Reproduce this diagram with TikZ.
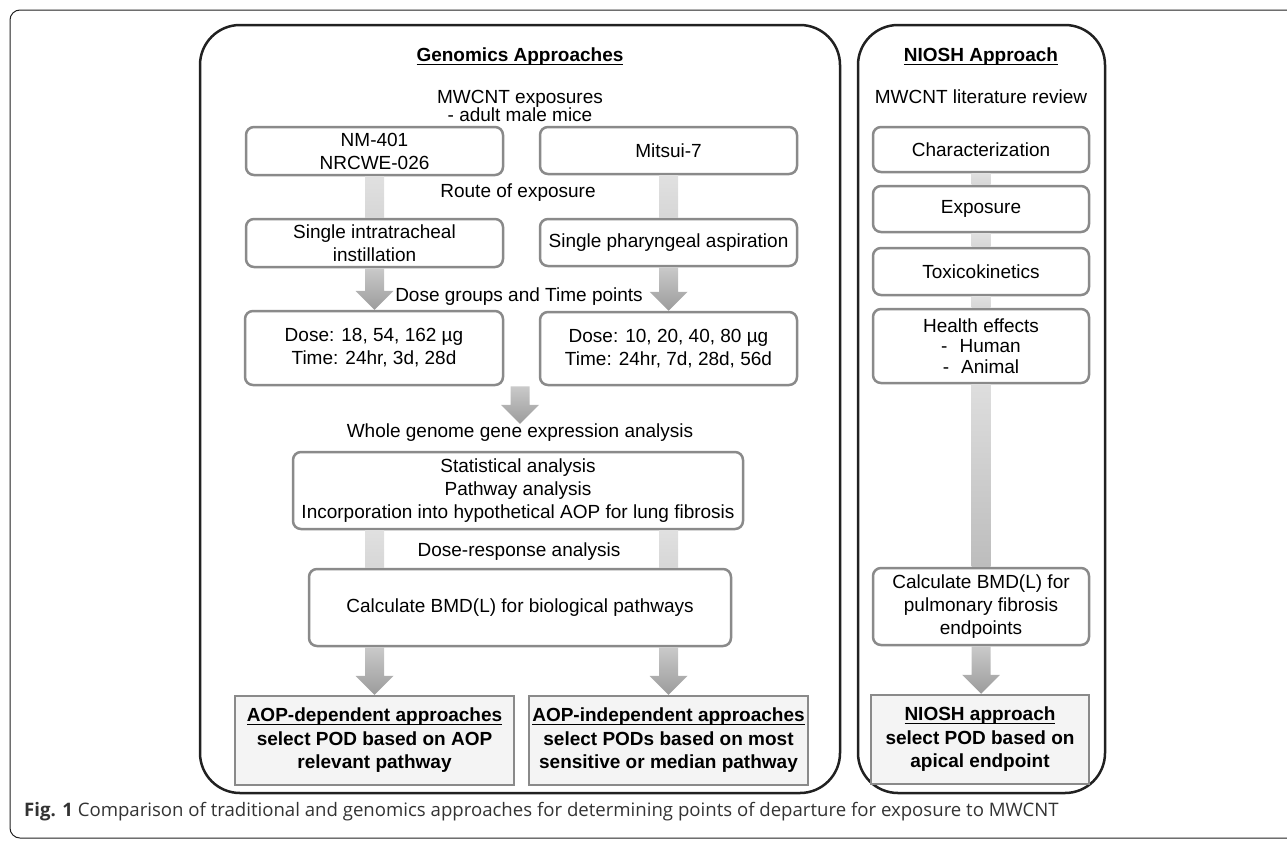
\documentclass[tikz,border=0pt]{standalone}
\usepackage{fontspec}
\setmainfont{Liberation Sans}
\newfontfamily\capfont{Open Sans}
\usetikzlibrary{calc}
\definecolor{boxgray}{rgb}{0.54,0.54,0.54}
\definecolor{panelgray}{rgb}{0.13,0.13,0.13}
\definecolor{podfill}{rgb}{0.955,0.955,0.955}

\newcommand{\ulhead}[1]{\setbox0\hbox{#1}\rlap{\rule[-3.5pt]{\wd0}{1.8pt}}\box0}
\newcommand{\linkbar}[3]{\shade[#1] let \p1=#2, \p2=#3 in (\x1-9.5pt,\y1) rectangle (\x1+9.5pt,\y2);}
\newcommand{\linkarrow}[3]{\shade[#1] let \p1=#2, \p2=#3 in (\x1-9.5pt,\y1) -- (\x1+9.5pt,\y1) -- (\x1+9.5pt,\y2+19pt) -- (\x1+19pt,\y2+19pt) -- (\x1,\y2) -- (\x1-19pt,\y2+19pt) -- (\x1-9.5pt,\y2+19pt) -- cycle;}

\begin{document}
\begin{tikzpicture}[x=1pt, y=-1pt, font=\fontsize{19}{23}\selectfont]
\tikzstyle{flowbox} = [draw=boxgray, line width=2.5pt, rounded corners=8pt, fill=white, align=center, inner sep=0pt]
\tikzstyle{podbox} = [draw=boxgray, line width=2.5pt, fill=podfill, align=center, inner sep=0pt, font=\fontsize{19}{23.5}\selectfont\bfseries]
\tikzstyle{panel} = [draw=panelgray, line width=2.5pt, rounded corners=40pt, inner sep=0pt]
\tikzstyle{note} = [align=center, inner sep=0pt]
\tikzstyle{headline} = [align=center, inner sep=0pt, font=\fontsize{19}{23}\selectfont\bfseries]
\tikzstyle{lightbar} = [top color=gray!24, bottom color=gray!32]
\tikzstyle{longbar} = [top color=gray!26, bottom color=gray!52]
\tikzstyle{darkarrow} = [top color=gray!42, bottom color=gray!78]

\useasboundingbox (0,0) rectangle (1287,841);
\clip (0,0) rectangle (1287,841);
\draw[panelgray, line width=1pt, rounded corners=10pt] (1320,838) -- (10,838) -- (10,10) -- (1320,10);

\node[panel, minimum width=640, minimum height=768] (genpanel) at (520,409) {};
\node[panel, minimum width=247, minimum height=768] (nioshpanel) at (981.5,409) {};

\node[headline] (genT) at (520,57) {\ulhead{Genomics Approaches}};
\node[note] (expT) at (520,106) {MWCNT exposures\\[-5pt]- adult male mice};
\node[flowbox, minimum width=257, minimum height=48] (nm) at (374.5,151) {NM-401\\NRCWE-026};
\node[flowbox, minimum width=257, minimum height=47] (mitsui) at (668.5,150.5) {Mitsui-7};
\node[note] (routeT) at (518,193) {Route of exposure};
\node[flowbox, minimum width=257, minimum height=48] (trach) at (374.5,243) {Single intratracheal\\instillation};
\node[flowbox, minimum width=257, minimum height=47] (phar) at (668.5,242.5) {Single pharyngeal aspiration};
\node[note] (doseT) at (519,297) {Dose groups and Time points};
\node[flowbox, minimum width=258, minimum height=74] (doseL) at (374,348) {Dose: 18, 54, 162 µg\\Time: 24hr, 3d, 28d};
\node[flowbox, minimum width=257, minimum height=73] (doseR) at (668.5,348.5) {Dose: 10, 20, 40, 80 µg\\Time: 24hr, 7d, 28d, 56d};
\node[note] (wgaT) at (520,433) {Whole genome gene expression analysis};
\node[flowbox, minimum width=450, minimum height=77] (stat) at (518,490.5) {Statistical analysis\\Pathway analysis\\Incorporation into hypothetical AOP for lung fibrosis};
\node[note] (drT) at (519,552) {Dose-response analysis};
\node[flowbox, minimum width=422, minimum height=77] (bmd) at (520,607.5) {Calculate BMD(L) for biological pathways};
\node[podbox, minimum width=279, minimum height=89] (aopdep) at (374.5,740.5) {\ulhead{AOP-dependent approaches}\\select POD based on AOP\\relevant pathway};
\node[podbox, minimum width=279, minimum height=89] (aopind) at (668.5,740.5) {\ulhead{AOP-independent approaches}\\select PODs based on most\\sensitive or median pathway};

\node[headline] (nioshT) at (981,57) {\ulhead{NIOSH Approach}};
\node[note] (litT) at (981,97) {MWCNT literature review};
\node[flowbox, minimum width=216, minimum height=45] (char) at (981,149.5) {Characterization};
\node[flowbox, minimum width=216, minimum height=46] (expo) at (981,209) {Exposure};
\node[flowbox, minimum width=216, minimum height=47] (toxi) at (981,271.5) {Toxicokinetics};
\node[flowbox, minimum width=216, minimum height=74] (health) at (981,346) {Health effects\\[-2.5pt]-\hspace{12pt}Human\\[-2.5pt]-\hspace{12pt}Animal};
\node[flowbox, minimum width=216, minimum height=77] (bmdn) at (981,606.5) {Calculate BMD(L) for\\pulmonary fibrosis\\endpoints};
\node[podbox, minimum width=218, minimum height=89] (nioshpod) at (980,739.5) {\ulhead{NIOSH approach}\\select POD based on\\apical endpoint};

\node[anchor=west, inner sep=0pt, text=black!80, font=\capfont\fontsize{18.6}{23}\selectfont] (capT) at (24,812) {\textbf{Fig. 1} Comparison of traditional and genomics approaches for determining points of departure for exposure to MWCNT};

\linkbar{lightbar}{(nm.south)}{(trach.north)}
\linkbar{lightbar}{(mitsui.south)}{(phar.north)}
\linkarrow{darkarrow}{(trach.south)}{(doseL.north)}
\linkarrow{darkarrow}{(phar.south)}{(doseR.north)}
\linkarrow{darkarrow}{(doseL.south -| wgaT)}{(wgaT.north)}
\linkbar{lightbar}{(stat.south -| trach)}{(bmd.north -| trach)}
\linkbar{lightbar}{(stat.south -| phar)}{(bmd.north -| phar)}
\linkarrow{darkarrow}{(bmd.south -| aopdep)}{(aopdep.north)}
\linkarrow{darkarrow}{(bmd.south -| aopind)}{(aopind.north)}
\linkbar{lightbar}{(char.south)}{(expo.north)}
\linkbar{lightbar}{(expo.south)}{(toxi.north)}
\linkbar{lightbar}{(toxi.south)}{(health.north)}
\linkbar{longbar}{(health.south)}{(bmdn.north)}
\linkarrow{darkarrow}{(bmdn.south)}{(nioshpod.north)}
\end{tikzpicture}
\end{document}
